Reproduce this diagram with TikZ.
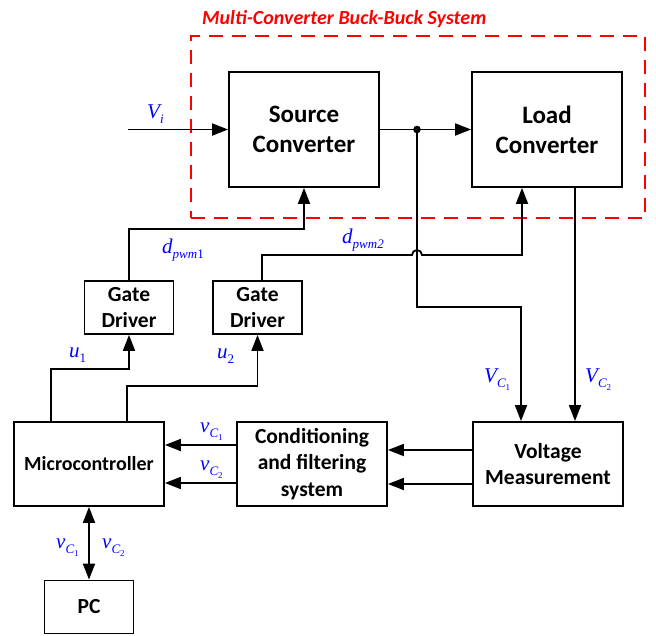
\documentclass[tikz,border=0pt]{standalone}
\usepackage{fontspec}
\setmainfont{Carlito}
\newfontfamily\tms{Liberation Serif}
\usetikzlibrary{arrows.meta}
\newcommand\mv[1]{{\tms\itshape\fontsize{21}{24}\selectfont #1}}
\newcommand\msub[1]{\raisebox{-5pt}{\tms\itshape\fontsize{13}{14}\selectfont #1}}
\newcommand\mssub[1]{\raisebox{-3pt}{\tms\upshape\fontsize{9}{10}\selectfont #1}}
\tikzset{
  blk/.style={draw, line width=1.8pt, align=center, inner sep=0pt,
    font=\bfseries\fontsize{21.5}{26.5}\selectfont},
  bigblk/.style={blk, minimum width=150pt, minimum height=115pt,
    font=\bfseries\fontsize{25}{30}\selectfont},
  midblk/.style={blk, minimum width=150pt, minimum height=84pt},
  smallblk/.style={blk, minimum width=89pt, minimum height=53pt},
  conn/.style={line width=1.8pt},
  arr/.style={conn, -{Triangle[length=16pt,width=12pt]}},
  darr/.style={conn, {Triangle[length=16pt,width=12pt]}-{Triangle[length=16pt,width=12pt]}},
  lbl/.style={text=blue, inner sep=0pt, anchor=base west},
}
\begin{document}
\begin{tikzpicture}[x=1pt,y=1pt]
\useasboundingbox (0,0) rectangle (656,-635);
% system frame and title
\node[draw=red, line width=1.6pt, dash pattern=on 14pt off 9pt,
  minimum width=454pt, minimum height=182pt, inner sep=0pt] (sys) at (418,-127) {};
\node[text=red, inner sep=0pt, anchor=base west,
  font=\bfseries\itshape\fontsize{20}{24}\selectfont] (title) at (202,-24) {Multi-Converter Buck-Buck System};
% blocks
\node[bigblk] (src) at (304,-129.5) {Source\\Converter};
\node[bigblk] (load) at (547,-129.5) {Load\\Converter};
\node[smallblk] (gd1) at (129,-307.5) {Gate\\Driver};
\node[smallblk] (gd2) at (257.5,-307.5) {Gate\\Driver};
\node[midblk, font=\bfseries\fontsize{20}{24}\selectfont] (mc) at (89,-464) {Microcontroller};
\node[midblk] (cond) at (312,-464) {Conditioning\\and filtering\\system};
\node[midblk] (vm) at (548,-464) {Voltage\\Measurement};
\node[smallblk] (pc) at (89,-607) {PC};
% coordinates
\coordinate (vin) at (128,-129.5);
\coordinate (jn) at (417,-129.5);
\coordinate (c1) at (521,-307);
\coordinate (dp1) at (304,-229);
\coordinate (hopa) at (412,-255);
\coordinate (u1c) at (129,-369);
\coordinate (u2c) at (257.5,-386);
% connectors
\draw[arr] (vin) -- (src.west);
\draw[arr] (src.east) -- (load.west);
\fill (jn) circle (3.8pt);
\draw[arr] (jn) |- (c1) -- (c1 |- vm.north);
\draw[arr] ([xshift=28pt]load.south) -- ([xshift=28pt]load.south |- vm.north);
\draw[arr] (gd1.north) |- (dp1) -- (src.south);
\draw[arr] ([xshift=4.5pt]gd2.north) |- (hopa) arc (180:0:5) -- ([xshift=-25pt]load.south |- hopa) -- ([xshift=-25pt]load.south);
\draw[arr] ([xshift=-38pt]mc.north) |- (u1c) -- (gd1.south);
\draw[arr] ([xshift=38pt]mc.north) |- (u2c) -- (gd2.south);
\draw[arr] ([yshift=14pt]vm.west) -- ([yshift=14pt]vm.west -| cond.east);
\draw[arr] ([yshift=-20pt]vm.west) -- ([yshift=-20pt]vm.west -| cond.east);
\draw[arr] ([yshift=19pt]cond.west) -- ([yshift=19pt]cond.west -| mc.east);
\draw[arr] ([yshift=-19pt]cond.west) -- ([yshift=-19pt]cond.west -| mc.east);
\draw[darr] (mc.south) -- (pc.north);
% labels
\node[lbl] (lvi) at (147,-118) {\mv{V}\msub{i}};
\node[lbl] (ld1) at (162,-253) {\mv{d}\msub{pwm\upshape 1}};
\node[lbl] (ld2) at (342,-243) {\mv{d}\msub{pwm2}};
\node[lbl] (lu1) at (69,-357) {\mv{u}\msub{\upshape 1}};
\node[lbl] (lu2) at (217,-358) {\mv{u}\msub{\upshape 2}};
\node[lbl] (lvc1) at (484,-382) {\mv{V}\msub{C\mssub{1}}};
\node[lbl] (lvc2) at (585,-382) {\mv{V}\msub{C\mssub{2}}};
\node[lbl] (lv1) at (200,-432) {\mv{v}\msub{C\mssub{1}}};
\node[lbl] (lv2) at (200,-470) {\mv{v}\msub{C\mssub{2}}};
\node[lbl] (lp1) at (56,-548) {\mv{v}\msub{C\mssub{1}}};
\node[lbl] (lp2) at (102,-548) {\mv{v}\msub{C\mssub{2}}};
\end{tikzpicture}
\end{document}
